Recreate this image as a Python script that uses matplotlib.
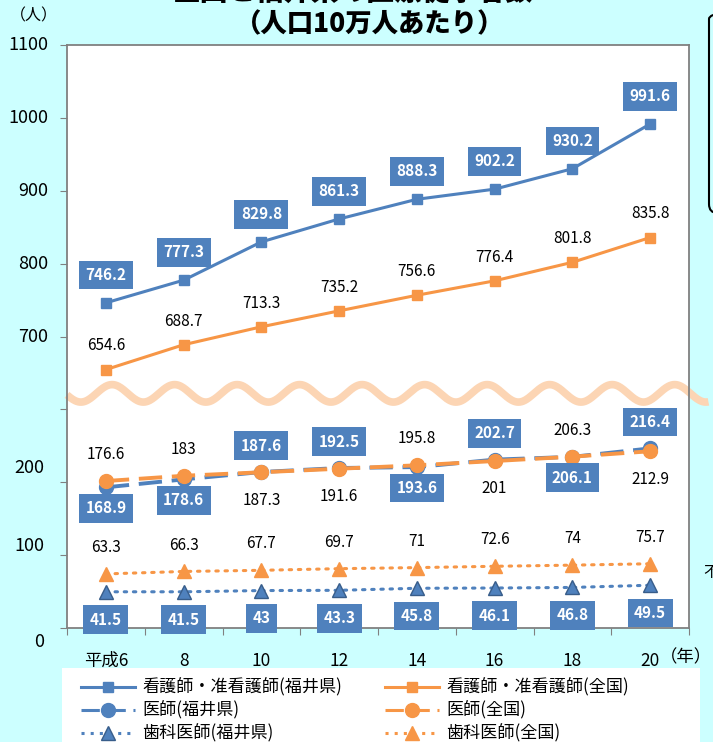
import numpy as np
import matplotlib.pyplot as plt
from matplotlib.lines import Line2D
from matplotlib.patches import Rectangle, FancyBboxPatch
import matplotlib.transforms as mtransforms

plt.rcParams['font.family'] = ['Noto Sans CJK JP', 'DejaVu Sans']

years = [6, 8, 10, 12, 14, 16, 18, 20]
year_labels = ['平成6', '8', '10', '12', '14', '16', '18', '20']

nurse_fukui = [746.2, 777.3, 829.8, 861.3, 888.3, 902.2, 930.2, 991.6]
nurse_japan = [654.6, 688.7, 713.3, 735.2, 756.6, 776.4, 801.8, 835.8]
doctor_fukui = [168.9, 178.6, 187.6, 192.5, 193.6, 202.7, 206.1, 216.4]
doctor_japan = [176.6, 183, 187.3, 191.6, 195.8, 201, 206.3, 212.9]
dentist_fukui = [41.5, 41.5, 43, 43.3, 45.8, 46.1, 46.8, 49.5]
dentist_japan = [63.3, 66.3, 67.7, 69.7, 71, 72.6, 74, 75.7]

# label side for the doctor series (1 = above, -1 = below)
doctor_fukui_side = [-1, -1, 1, 1, -1, 1, -1, 1]
doctor_japan_side = [1, 1, -1, -1, 1, -1, 1, -1]

upper_ticks = [700, 800, 900, 1000, 1100]
lower_ticks = [0, 100, 200]

BLUE = '#4F81BD'
BLUE_DARK = '#385D8A'
ORANGE = '#F79646'
BG = '#CCFFFF'
DASH = (0, (6, 2.5))
DOT = (0, (0.8, 2.2))


def up(v):
    # upper section: broken axis, shifted down
    return np.asarray(v, dtype=float) - 300


def low(v):
    # lower section is drawn a bit stretched
    return np.asarray(v, dtype=float) * 1.125 + 3


fig = plt.figure(figsize=(7.13, 7.42), dpi=100, facecolor=BG)
ax = fig.add_axes([67 / 713, 1 - 628 / 742, 622 / 713, 583 / 742])
ax.set_facecolor('white')
ax.set_xlim(5, 21)
ax.set_ylim(0, 800)

for s in ax.spines.values():
    s.set_color('#808080')
    s.set_linewidth(1.3)

ax.set_yticks(np.arange(0, 801, 100))
ax.set_yticklabels([])
ax.tick_params(axis='y', direction='out', length=5, color='#808080')
ax.set_xticks(np.arange(5, 22, 2))
ax.set_xticklabels([])
ax.tick_params(axis='x', direction='out', length=5, color='#808080')

ytr = mtransforms.blended_transform_factory(ax.transAxes, ax.transData)
for t in upper_ticks:
    ax.text(-0.03, up(t), str(t), transform=ytr, ha='right', va='center', fontsize=13)
for t, yp in zip(lower_ticks, [-19, 112, 219]):
    ax.text(-0.036, yp, str(t), transform=ytr, ha='right', va='center', fontsize=13)

for x, lab in zip(years, year_labels):
    ax.text(x, -45, lab, ha='center', va='center', fontsize=12.5)
fig.text(712 / 713, 1 - 657 / 742, '（年）', ha='right', va='center', fontsize=12.5)
fig.text(34 / 713, 1 - 16 / 742, '（人）', ha='center', va='center', fontsize=11.5)

# break wave
wx = np.linspace(5, 21.5, 800)
wy = 322 + 12 * np.cos(2 * np.pi * (wx - 6.16) / 1.608)
ax.plot(wx, wy, color='#FCD5B4', lw=5.5, solid_capstyle='butt', clip_on=False, zorder=2)

# series
ax.plot(years, up(nurse_fukui), '-', color=BLUE, lw=2.2, marker='s', ms=7,
        mfc=BLUE, mec=BLUE, zorder=4)
ax.plot(years, up(nurse_japan), '-', color=ORANGE, lw=2.2, marker='s', ms=7,
        mfc=ORANGE, mec=ORANGE, zorder=4)
ax.plot(years, low(doctor_fukui), color=BLUE, lw=2.8, ls=DASH, marker='o', ms=10,
        mfc=BLUE, mec=BLUE, zorder=4)
ax.plot(years, low(doctor_japan), color=ORANGE, lw=2.8, ls=DASH, marker='o', ms=10,
        mfc=ORANGE, mec=ORANGE, zorder=5)
ax.plot(years, low(dentist_fukui), color=BLUE, lw=2.2, ls=DOT, dash_capstyle='round',
        marker='^', ms=10, mfc=BLUE, mec=BLUE_DARK, zorder=4)
ax.plot(years, low(dentist_japan), color=ORANGE, lw=2.2, ls=DOT, dash_capstyle='round',
        marker='^', ms=10, mfc=ORANGE, mec=ORANGE, zorder=4)

box = dict(boxstyle='square,pad=0.42', fc=BLUE, ec='none')


def blue_label(x, y, v, dy):
    ax.annotate(f'{v:g}', (x, y), xytext=(0, dy), textcoords='offset points',
                ha='center', va='center', fontsize=11, fontweight='bold', color='white',
                bbox=box, zorder=6, annotation_clip=False)


def plain_label(x, y, v, dy):
    ax.annotate(f'{v:g}', (x, y), xytext=(0, dy), textcoords='offset points',
                ha='center', va='center', fontsize=11, color='black', zorder=6,
                annotation_clip=False)


for i, x in enumerate(years):
    blue_label(x, up(nurse_fukui[i]), nurse_fukui[i], 20)
    plain_label(x, up(nurse_japan[i]), nurse_japan[i], 17)
    s = doctor_fukui_side[i]
    blue_label(x, low(doctor_fukui[i]), doctor_fukui[i], 19 if s > 0 else -15)
    s = doctor_japan_side[i]
    plain_label(x, low(doctor_japan[i]), doctor_japan[i], 19 if s > 0 else -20)
    blue_label(x, low(dentist_fukui[i]), dentist_fukui[i], -20)
    plain_label(x, low(dentist_japan[i]), dentist_japan[i], 19)

# title (first line cut off by the top of the image)
fig.text(353 / 713, 1 + 0.5 / 742, '全国と福井県の医療従事者数', ha='center', va='baseline',
         fontsize=20, fontweight='black')
fig.text(370 / 713, 1 - 24 / 742, '（人口10万人あたり）', ha='center', va='center',
         fontsize=19, fontweight='black')

# neighbouring box at the right edge
fig.patches.append(FancyBboxPatch((709 / 713, 1 - 213 / 742), 0.1, 203 / 742,
                                  boxstyle='round,pad=0,rounding_size=0.012',
                                  transform=fig.transFigure, fc='none', ec='black', lw=1.5))
fig.text(703 / 713, 1 - 572 / 742, '不', ha='left', va='center', fontsize=11)

# legend
fig.patches.append(Rectangle((62 / 713, 0), 638 / 713, 74 / 742, transform=fig.transFigure,
                             fc='white', ec='none', zorder=0))


def handle(color, ls, marker, ms, mec=None):
    return Line2D([], [], color=color, ls=ls, lw=2.2, marker=marker, ms=ms,
                  mfc=color, mec=mec or color)


left_h = [handle(BLUE, '-', 's', 7), handle(BLUE, DASH, 'o', 10),
          handle(BLUE, (0, (1, 2)), '^', 10, BLUE_DARK)]
left_l = ['看護師・准看護師(福井県)', '医師(福井県)', '歯科医師(福井県)']
right_h = [handle(ORANGE, '-', 's', 7), handle(ORANGE, DASH, 'o', 10),
           handle(ORANGE, (0, (1, 2)), '^', 10)]
right_l = ['看護師・准看護師(全国)', '医師(全国)', '歯科医師(全国)']

for hs, ls_, x0 in [(left_h, left_l, 72), (right_h, right_l, 376)]:
    fig.legend(hs, ls_, loc='upper left', bbox_to_anchor=(x0 / 713, 1 - 670 / 742),
               frameon=False, fontsize=12.3, handlelength=3.2, handletextpad=0.4,
               labelspacing=0.26, borderpad=0)

fig.savefig('out.png', dpi=100, facecolor=BG)
